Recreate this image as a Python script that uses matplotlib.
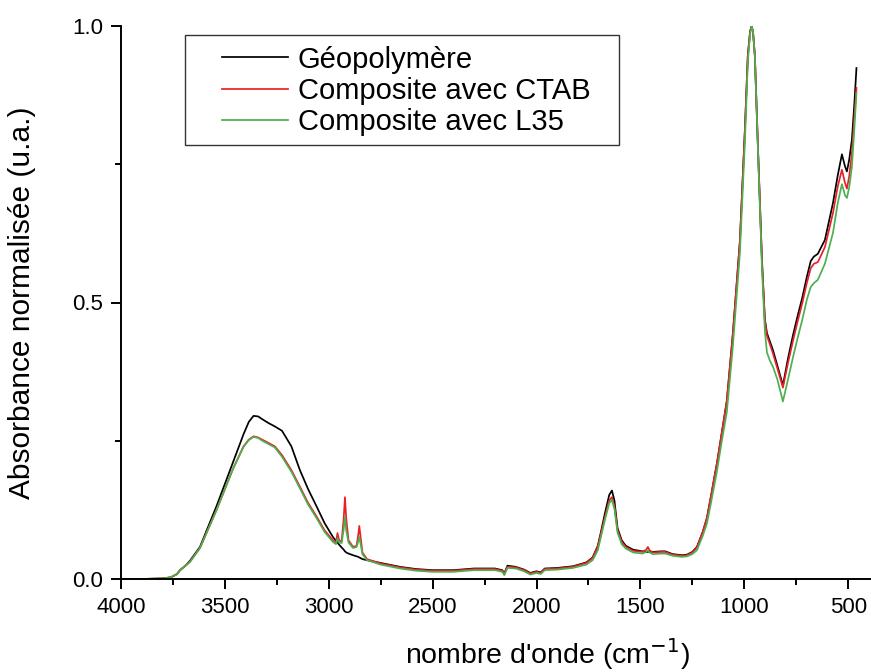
import matplotlib
matplotlib.use("Agg")
import matplotlib.pyplot as plt
from matplotlib.patches import Rectangle
from matplotlib.ticker import MultipleLocator

plt.rcParams["font.family"] = ["Liberation Sans", "DejaVu Sans"]

# wavenumber grid (cm-1)
WN = [4000, 3900, 3800, 3760, 3730, 3716, 3690, 3668, 3620, 3540,
      3460, 3410, 3385, 3362, 3340, 3320, 3290, 3260, 3225, 3180,
      3139, 3100, 3057, 3020, 2980, 2965, 2958, 2950, 2938, 2928,
      2922, 2916, 2905, 2883, 2866, 2858, 2853, 2848, 2838, 2816,
      2750, 2657, 2580, 2500, 2400, 2300, 2200, 2165, 2155, 2140,
      2100, 2060, 2030, 2000, 1980, 1960, 1900, 1825, 1760, 1730,
      1705, 1690, 1670, 1650, 1637, 1625, 1610, 1590, 1570, 1535,
      1490, 1472, 1464, 1456, 1440, 1400, 1380, 1345, 1300, 1276,
      1250, 1228, 1200, 1180, 1160, 1141, 1132, 1110, 1084, 1055,
      1021, 997, 983, 972, 965, 958, 949, 934, 915, 901,
      891, 877, 862, 840, 814, 790, 766, 747, 720, 699,
      680, 665, 646, 612, 573, 550, 530, 515, 506, 495,
      482, 470, 460]

GEO = [0, 0, 0.001, 0.003, 0.009, 0.016, 0.024, 0.033, 0.058, 0.132,
       0.212, 0.262, 0.284, 0.295, 0.294, 0.289, 0.282, 0.276, 0.268, 0.240,
       0.197, 0.163, 0.130, 0.101, 0.076, 0.069, 0.066, 0.062, 0.057, 0.053,
       0.050, 0.048, 0.046, 0.043, 0.041, 0.040, 0.039, 0.038, 0.036, 0.034,
       0.029, 0.022, 0.018, 0.016, 0.016, 0.019, 0.019, 0.016, 0.010, 0.024,
       0.022, 0.017, 0.011, 0.014, 0.012, 0.019, 0.020, 0.023, 0.030, 0.039,
       0.060, 0.085, 0.120, 0.152, 0.160, 0.142, 0.092, 0.070, 0.060, 0.053,
       0.050, 0.049, 0.049, 0.049, 0.049, 0.050, 0.050, 0.045, 0.043, 0.044,
       0.049, 0.058, 0.085, 0.110, 0.150, 0.190, 0.208, 0.260, 0.322, 0.443,
       0.611, 0.812, 0.946, 0.990, 1.000, 0.990, 0.946, 0.779, 0.577, 0.470,
       0.445, 0.430, 0.414, 0.385, 0.350, 0.398, 0.440, 0.470, 0.510, 0.546,
       0.575, 0.583, 0.588, 0.613, 0.680, 0.730, 0.768, 0.746, 0.737, 0.758,
       0.794, 0.860, 0.924]

CTAB = [0, 0, 0.001, 0.003, 0.009, 0.016, 0.024, 0.031, 0.056, 0.125,
        0.200, 0.240, 0.252, 0.258, 0.256, 0.252, 0.246, 0.240, 0.224, 0.197,
        0.167, 0.138, 0.112, 0.088, 0.070, 0.066, 0.083, 0.070, 0.068, 0.110,
        0.148, 0.110, 0.070, 0.058, 0.060, 0.080, 0.096, 0.080, 0.048, 0.036,
        0.028, 0.021, 0.017, 0.015, 0.015, 0.018, 0.018, 0.015, 0.009, 0.022,
        0.021, 0.016, 0.010, 0.013, 0.011, 0.018, 0.019, 0.022, 0.029, 0.038,
        0.058, 0.082, 0.113, 0.142, 0.148, 0.132, 0.088, 0.067, 0.058, 0.051,
        0.049, 0.053, 0.058, 0.052, 0.048, 0.049, 0.049, 0.044, 0.042, 0.043,
        0.048, 0.057, 0.085, 0.110, 0.150, 0.190, 0.208, 0.260, 0.322, 0.443,
        0.611, 0.812, 0.946, 0.990, 1.000, 0.990, 0.946, 0.779, 0.577, 0.468,
        0.440, 0.425, 0.408, 0.380, 0.346, 0.390, 0.430, 0.460, 0.500, 0.535,
        0.562, 0.570, 0.573, 0.600, 0.662, 0.710, 0.740, 0.716, 0.706, 0.728,
        0.770, 0.835, 0.888]

L35 = [0, 0, 0.001, 0.003, 0.009, 0.016, 0.024, 0.031, 0.056, 0.125,
       0.200, 0.239, 0.251, 0.257, 0.255, 0.250, 0.244, 0.238, 0.221, 0.194,
       0.164, 0.135, 0.109, 0.085, 0.067, 0.063, 0.074, 0.066, 0.065, 0.090,
       0.112, 0.088, 0.066, 0.056, 0.058, 0.068, 0.076, 0.066, 0.045, 0.034,
       0.026, 0.019, 0.015, 0.013, 0.013, 0.016, 0.016, 0.013, 0.007, 0.020,
       0.019, 0.014, 0.008, 0.011, 0.009, 0.016, 0.017, 0.020, 0.026, 0.034,
       0.052, 0.076, 0.108, 0.137, 0.143, 0.127, 0.084, 0.063, 0.055, 0.048,
       0.046, 0.049, 0.052, 0.048, 0.045, 0.046, 0.046, 0.042, 0.040, 0.041,
       0.045, 0.052, 0.078, 0.100, 0.138, 0.176, 0.194, 0.245, 0.302, 0.420,
       0.590, 0.790, 0.935, 0.985, 1.000, 0.990, 0.946, 0.775, 0.565, 0.450,
       0.410, 0.395, 0.384, 0.360, 0.321, 0.360, 0.400, 0.430, 0.470, 0.505,
       0.528, 0.535, 0.541, 0.570, 0.626, 0.680, 0.714, 0.694, 0.689, 0.708,
       0.745, 0.815, 0.879]

LABELS = ["Géopolymère", "Composite avec CTAB", "Composite avec L35"]
COLORS = ["#000000", "#e8202a", "#4caf50"]

W, H = 871, 672
fig = plt.figure(figsize=(W / 100, H / 100), dpi=100)
ax = fig.add_axes([121 / W, 93 / H, 750 / W, 553 / H])

for y, lab, c in zip([GEO, CTAB, L35], LABELS, COLORS):
    ax.plot(WN, y, color=c, lw=1.25, label=lab)

ax.set_xlim(4000, 390)
ax.set_ylim(0, 1.0)
ax.set_xticks([4000, 3500, 3000, 2500, 2000, 1500, 1000, 500])
ax.xaxis.set_minor_locator(MultipleLocator(250))
ax.set_yticks([0.0, 0.5, 1.0])
ax.yaxis.set_minor_locator(MultipleLocator(0.25))
ax.set_yticklabels(["0.0", "0.5", "1.0"])

for side in ("top", "right"):
    ax.spines[side].set_visible(False)
for side in ("left", "bottom"):
    ax.spines[side].set_linewidth(1.4)
ax.tick_params(which="major", direction="out", length=7, width=1.4,
               labelsize=16, pad=6)
ax.tick_params(which="minor", direction="out", length=4, width=1.4)

# the source plot was cropped on the right, so the x label sits off-centre
ax.set_xlabel("nombre d'onde (cm$^{-1}$)", fontsize=20.5)
ax.xaxis.set_label_coords(0.568, -0.104)
ax.set_ylabel("Absorbance normalisée (u.a.)", fontsize=21.5, labelpad=26)

# legend entries without frame, box drawn separately
leg = fig.legend(loc="center left", bbox_to_anchor=(222 / W, 1 - 91 / H),
                 fontsize=21, frameon=False,
                 handlelength=2.26, handletextpad=0.34, labelspacing=0.12,
                 borderpad=0, borderaxespad=0)
fig.patches.append(Rectangle((185 / W, 1 - 145 / H), 434 / W, 110 / H,
                             transform=fig.transFigure, fill=False,
                             edgecolor="#333333", linewidth=1.0))

fig.savefig("out.png", dpi=100, facecolor="white")
